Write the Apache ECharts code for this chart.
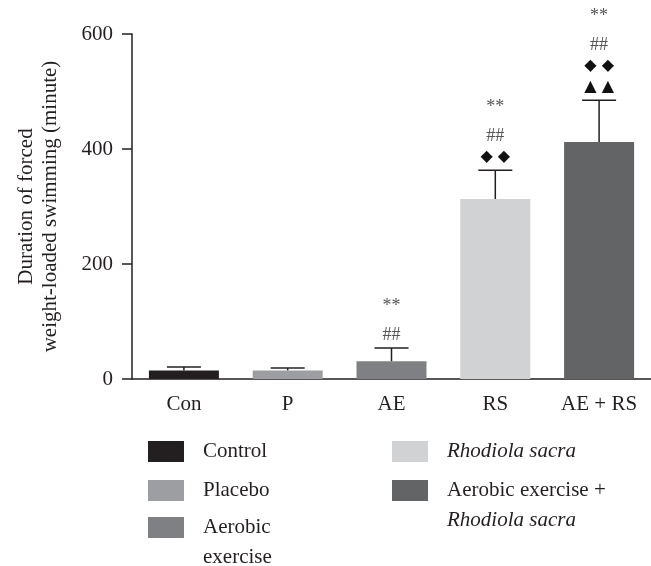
<!DOCTYPE html>
<html><head><meta charset="utf-8">
<script src="https://cdn.jsdelivr.net/npm/echarts@6/dist/echarts.min.js"></script>
<style>html,body{margin:0;padding:0;background:#fff}#c{width:651px;height:566px}</style>
</head><body><div id="c"></div>
<script>
const categories = ["Con", "P", "AE", "RS", "AE + RS"];
const means = [15, 15, 31, 313, 412];
const errorTops = [21, 19, 54, 363, 485];
const barColors = ["#231f20", "#9d9ea2", "#7f8083", "#d1d2d4", "#636466"];
const annotations = [[], [], ["##", "**"], ["◆◆", "##", "**"], ["▲▲", "◆◆", "##", "**"]];
const yTicks = [0, 200, 400, 600];
const legendItems = [
  {lines: ["{n|Control}"], col: 0, row: 0, color: 0},
  {lines: ["{n|Placebo}"], col: 0, row: 1, color: 1},
  {lines: ["{n|Aerobic}", "{n|exercise}"], col: 0, row: 2, color: 2},
  {lines: ["{i|Rhodiola sacra}"], col: 1, row: 0, color: 3},
  {lines: ["{n|Aerobic exercise +}", "{i|Rhodiola sacra}"], col: 1, row: 1, color: 4}
];
const serif = "'Liberation Serif', 'DejaVu Serif', serif";
const ink = "#231f20";

const chart = echarts.init(document.getElementById('c'));

const graphics = [];
const colX = [148, 392];
const rowY = [441, 480, 517];
legendItems.forEach(it => {
  const x = colX[it.col], y = rowY[it.row];
  graphics.push({type: 'rect', shape: {x: x, y: y, width: 36, height: 21}, style: {fill: barColors[it.color]}});
  graphics.push({type: 'text', x: x + 55, y: y + 10.5 - 15,
    style: {text: it.lines.join('\n'), fill: ink, verticalAlign: 'top',
      rich: {n: {fontFamily: serif, fontSize: 21, lineHeight: 30, fill: ink},
             i: {fontFamily: serif, fontSize: 21, fontStyle: 'italic', lineHeight: 30, fill: ink}}}});
});

chart.setOption({
  animation: false,
  grid: {left: 132, right: 0, top: 34, bottom: 187},
  xAxis: {
    type: 'category', data: categories,
    axisLine: {lineStyle: {color: ink, width: 1.5}},
    axisTick: {alignWithLabel: true, length: 10, lineStyle: {color: ink, width: 1.5}},
    axisLabel: {color: ink, fontFamily: serif, fontSize: 21, margin: 15}
  },
  yAxis: {
    type: 'value', min: 0, max: 600, interval: 200,
    name: 'Duration of forced\nweight-loaded swimming (minute)',
    nameLocation: 'middle', nameRotate: 90, nameGap: 70,
    nameTextStyle: {color: ink, fontFamily: serif, fontSize: 21, lineHeight: 24},
    splitLine: {show: false},
    axisLine: {show: true, lineStyle: {color: ink, width: 1.5}},
    axisTick: {show: true, length: 10, lineStyle: {color: ink, width: 1.5}},
    axisLabel: {color: ink, fontFamily: serif, fontSize: 21, margin: 19}
  },
  series: [
    {type: 'bar', barWidth: 70,
     data: means.map((v, i) => ({value: v, itemStyle: {color: barColors[i]}}))},
    {type: 'custom', z: 5,
     data: means.map((v, i) => [i, v, errorTops[i]]),
     renderItem: function (params, api) {
       const i = api.value(0);
       const base = api.coord([i, api.value(1)]);
       const top = api.coord([i, api.value(2)]);
       const children = [
         {type: 'line', shape: {x1: top[0], y1: base[1], x2: top[0], y2: top[1]}, style: {stroke: ink, lineWidth: 1.5}},
         {type: 'line', shape: {x1: top[0] - 17, y1: top[1], x2: top[0] + 17, y2: top[1]}, style: {stroke: ink, lineWidth: 1.5}}
       ];
       let y = top[1];
       annotations[i].forEach((a, k) => {
         const isStar = a === '**';
         const isSym = a === '◆◆' || a === '▲▲';
         y -= (k === 0 ? 13 : (isStar ? 29 : 21));
         children.push({type: 'text', x: top[0], y: y,
           style: {text: isSym ? a.split('').join(' ') : a, align: 'center', verticalAlign: 'middle',
             fill: isSym ? '#111' : '#555',
             font: isSym ? '16px "DejaVu Sans"' : '18px ' + serif}});
       });
       return {type: 'group', children: children};
     }}
  ],
  graphic: graphics
});
</script></body></html>
